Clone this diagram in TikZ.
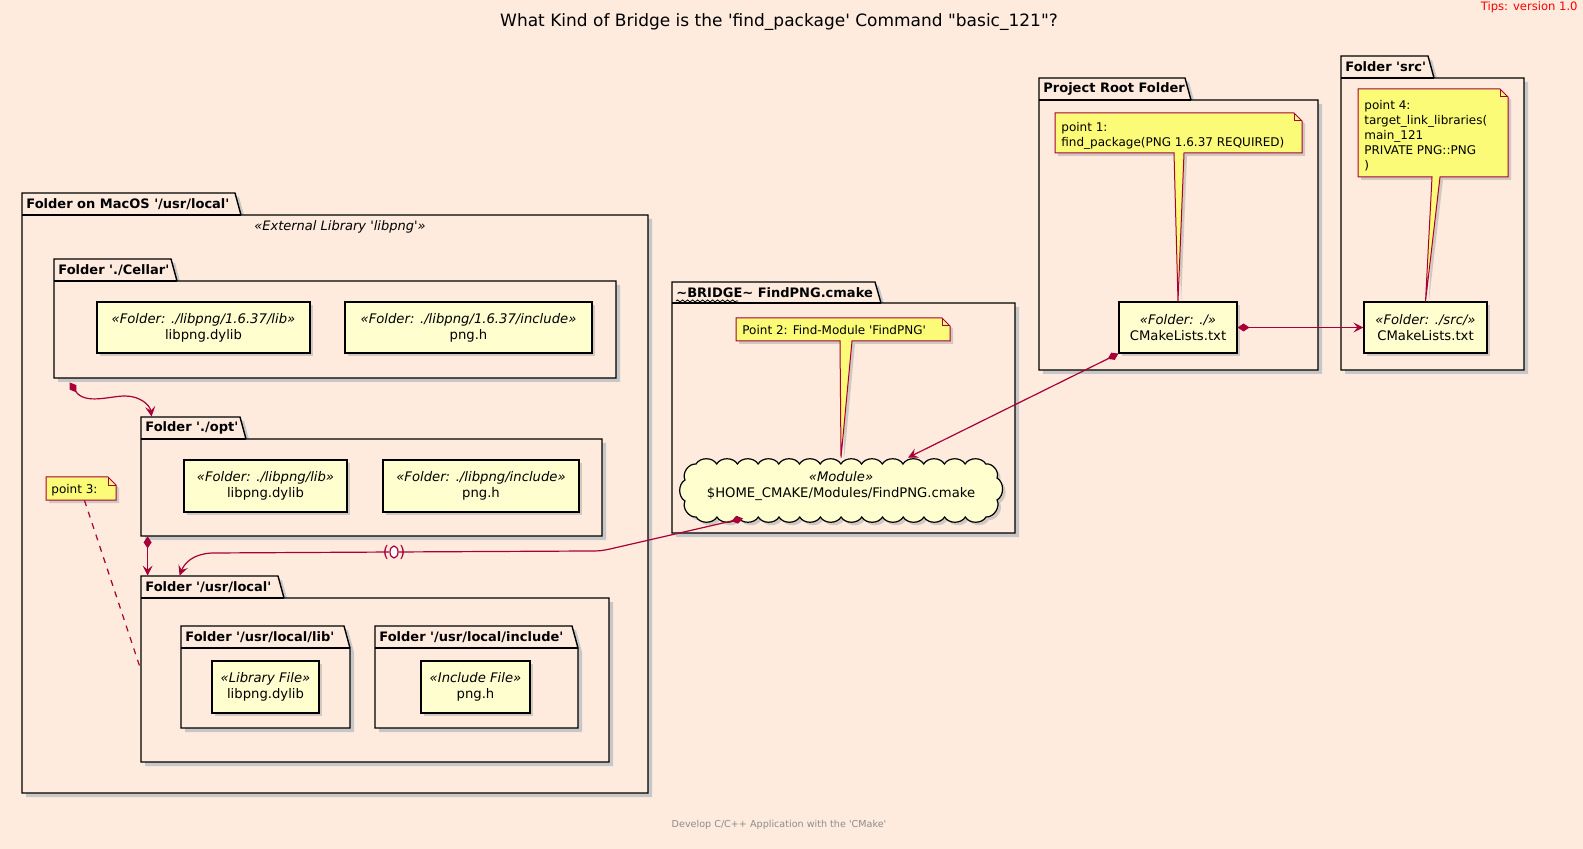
\documentclass[tikz,border=0pt]{standalone}
\usepackage{fontspec}
\setmainfont{DejaVu Sans}[Ligatures=TeXOff]
\usetikzlibrary{positioning,arrows.meta,fit,shadows,shapes.geometric,decorations.pathmorphing}

\definecolor{bgpeach}{RGB}{254,235,222}
\definecolor{umlred}{HTML}{A80036}
\definecolor{notefill}{HTML}{FBFB77}
\definecolor{boxfill}{HTML}{FEFECE}

\newcommand{\fsz}[2]{\fontsize{#1}{#2}\selectfont}
\newcommand{\stereo}[1]{{\itshape «#1»}}

\tikzset{
  pkgline/.style={draw=black, line width=0.7pt, fill=bgpeach},
  pkgshadow/.style={fill=black!22},
  pkglabel/.style={font=\fsz{6.5}{8}\bfseries, inner sep=0pt, anchor=west},
  artifact/.style={draw=black, line width=0.6pt, fill=boxfill, align=center,
    font=\fsz{6.6}{8}, inner sep=0pt,
    drop shadow={shadow xshift=1.5pt, shadow yshift=-1.5pt, fill=black!35, opacity=0.5}},
  notebody/.style={draw=umlred, line width=0.5pt, fill=notefill,
    drop shadow={shadow xshift=1.5pt, shadow yshift=-1.5pt, fill=black!35, opacity=0.5}},
  notetext/.style={font=\fsz{6}{7.5}, align=left, inner sep=0pt, anchor=north west},
  link/.style={draw=umlred, line width=0.6pt},
  dmd/.style={{Diamond[length=6pt,width=4pt]}-},
  arr/.style={-{Stealth[length=5pt,width=5pt,inset=2pt]}},
  dmdarr/.style={{Diamond[length=6pt,width=4pt]}-{Stealth[length=5pt,width=5pt,inset=2pt]}},
  lollipop/.style={draw=umlred, fill=white, line width=0.6pt, ellipse, minimum width=4pt,
    minimum height=6pt, inner sep=0pt},
}

% #1 name, #2 left, #3 tab top, #4 box top, #5 right, #6 bottom, #7 tab end, #8 label
\newcommand{\folderpkg}[8]{%
  \fill[pkgshadow] (#2+4,#3+4) -- (#7+4,#3+4) -- (#7+10,#4+4) -- (#5+4,#4+4) -- (#5+4,#6+4) -- (#2+4,#6+4) -- cycle;
  \draw[pkgline] (#2,#3) -- (#7,#3) -- (#7+6,#4) -- (#5,#4) -- (#5,#6) -- (#2,#6) -- cycle;
  \draw[pkgline, fill=none] (#2,#4) -- (#7+6,#4);
  \node[fit={(#2,#3) (#5,#6)}, inner sep=0pt] (#1) {};
  \node[pkglabel] (#1-tab) at (#2+4,{(#3+#4)/2}) {#8};
}

% #1-#4 box, #5 #6 tail base, #7 tail tip
\newcommand{\umlnote}[7]{%
  \filldraw[notebody] (#1,#2) -- (#3-8,#2) -- (#3,#2+8) -- (#3,#4) -- (#6,#4) -- #7 -- (#5,#4) -- (#1,#4) -- cycle;
  \draw[draw=umlred, line width=0.5pt] (#3-8,#2) -- (#3-8,#2+8) -- (#3,#2+8);
}

\begin{document}
\begin{tikzpicture}[x=0.5pt,y=-0.5pt]
\fill[bgpeach] (0,0) rectangle (1583,849);

\node[font=\fsz{8.5}{10}] (title) at (779,22) {What Kind of Bridge is the 'find\_package' Command "basic\_121"?};
\node[font=\fsz{5.8}{7}, text=red, anchor=north east, inner sep=0pt] (tips) at (1578,1) {Tips: version 1.0};
\node[font=\fsz{4.8}{6}, text=black!45] (footer) at (779,825) {Develop C/C++ Application with the 'CMake'};

% packages
\folderpkg{macos}{22}{193}{215}{648}{793}{235}{Folder on MacOS '/usr/local'}
\node[font=\fsz{6.5}{8}, inner sep=0pt] (extlib) at (340,227) {\stereo{External Library 'libpng'}};
\folderpkg{cellar}{54}{259}{281}{616}{378}{171}{Folder './Cellar'}
\folderpkg{opt}{141}{417}{439}{602}{536}{240}{Folder './opt'}
\folderpkg{usrlocal}{141}{576}{598}{609}{762}{278}{Folder '/usr/local'}
\folderpkg{usrlib}{181}{626}{648}{350}{728}{344}{Folder '/usr/local/lib'}
\folderpkg{usrinc}{375}{626}{648}{578}{728}{572}{Folder '/usr/local/include'}
\folderpkg{bridge}{672}{282}{303}{1015}{533}{875}{\textasciitilde BRIDGE\textasciitilde{} FindPNG.cmake}
\draw[decorate, decoration={snake, amplitude=0.5pt, segment length=2.5pt}, line width=0.4pt]
  ([yshift=-1.5pt]bridge-tab.south west) -- ++(62,0);
\folderpkg{root}{1039}{78}{100}{1318}{370}{1185}{Project Root Folder}
\folderpkg{src}{1341}{56}{78}{1524}{370}{1428}{Folder 'src'}

% artifacts
\node[artifact, minimum width=106.5pt, minimum height=25.5pt] (cellarlib) at (203.5,327.5) {\stereo{Folder: ./libpng/1.6.37/lib}\\libpng.dylib};
\node[artifact, minimum width=123.5pt, minimum height=25.5pt] (cellarinc) at (468.5,327.5) {\stereo{Folder: ./libpng/1.6.37/include}\\png.h};
\node[artifact, minimum width=81.5pt, minimum height=26pt] (optlib) at (265.5,486) {\stereo{Folder: ./libpng/lib}\\libpng.dylib};
\node[artifact, minimum width=98pt, minimum height=26pt] (optinc) at (481,486) {\stereo{Folder: ./libpng/include}\\png.h};
\node[artifact, minimum width=53.5pt, minimum height=26pt] (libfile) at (265.5,687) {\stereo{Library File}\\libpng.dylib};
\node[artifact, minimum width=54.5pt, minimum height=26pt] (incfile) at (475.5,687) {\stereo{Include File}\\png.h};
\node[artifact, minimum width=59pt, minimum height=25.5pt] (rootcm) at (1178,327.5) {\stereo{Folder: ./}\\CMakeLists.txt};
\node[artifact, minimum width=61.5pt, minimum height=25.5pt] (srccm) at (1425.5,327.5) {\stereo{Folder: ./src/}\\CMakeLists.txt};

% module cloud
\filldraw[draw=black, line width=0.6pt, fill=boxfill,
  drop shadow={shadow xshift=1.5pt, shadow yshift=-1.5pt, fill=black!35, opacity=0.5}]
  (696,464) \foreach \i in {1,...,14} { to[bend left=60] (696+\i*20.7,464) }
  to[bend left=60] (997,478) to[bend left=60] (997,500) to[bend left=60] (986,517)
  \foreach \i in {1,...,14} { to[bend left=60] (986-\i*20.7,517) }
  to[bend left=60] (685,501) to[bend left=60] (685,480) to[bend left=60] (696,464) -- cycle;
\node[fit={(680,458) (1002,525)}, inner sep=0pt, align=center, font=\fsz{6.6}{8}] (module) {\stereo{Module}\\\$HOME\_CMAKE/Modules/FindPNG.cmake};

% notes
\umlnote{1055}{113}{1302}{153}{1174}{1184}{(rootcm.north)}
\node[notetext] (note1) at (1061,122) {point 1:\\find\_package(PNG 1.6.37 REQUIRED)};
\umlnote{1358}{89}{1508}{177}{1432}{1440}{(srccm.north)}
\node[notetext] (note4) at (1364,100) {point 4:\\target\_link\_libraries(\\main\_121\\PRIVATE PNG::PNG\\)};
\umlnote{736}{318}{950}{341}{840}{852}{(module.north)}
\node[notetext] (note2) at (742,325) {Point 2: Find-Module 'FindPNG'};
\filldraw[notebody] (46,477) -- (108,477) -- (116,485) -- (116,500) -- (46,500) -- cycle;
\draw[draw=umlred, line width=0.5pt] (108,477) -- (108,485) -- (116,485);
\node[notetext] (note3) at (51,484) {point 3:};

% connectors
\node[lollipop, label={[text=umlred, font=\fsz{8}{8}]center:(\hspace{5pt})}] (lolly) at (394,552) {};
\draw[link, dmdarr] (rootcm.east) -- (srccm.west);
\draw[link, dmdarr] (rootcm.south west) -- ([xshift=33.5pt]module.north);
\draw[link, dmd] ([xshift=-49pt,yshift=3.5pt]module.south) -- (610,549) .. controls (600,551) .. (588,551) -- (lolly);
\draw[link, arr] (lolly) -- (212,553) .. controls (192,554) and (184,564) .. ([xshift=19.5pt]usrlocal.north west);
\draw[link, dmdarr] ([xshift=8pt,yshift=-2pt]cellar.south west) .. controls (85,405) and (110,396) .. (125,396)
  .. controls (140,396) and (150,405) .. ([xshift=5.5pt]opt.north west);
\draw[link, dmdarr] ([xshift=3.5pt]opt.south west) -- ([xshift=3.5pt]usrlocal.north west);
\draw[link, dashed] ([xshift=5pt,yshift=-2pt]note3.south) -- (usrlocal.west);
\end{tikzpicture}
\end{document}
